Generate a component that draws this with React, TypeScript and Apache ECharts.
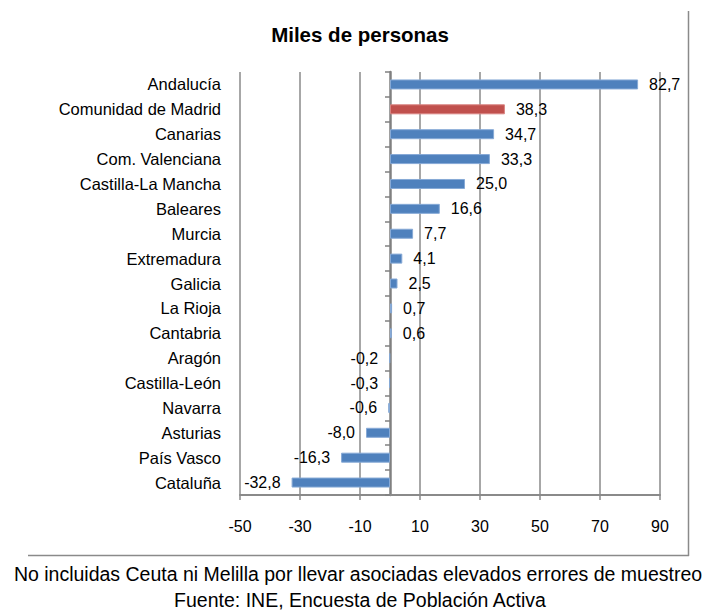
import React, { useEffect, useRef } from "react";
import * as echarts from "echarts";

const categories = [
  "Andalucía",
  "Comunidad de Madrid",
  "Canarias",
  "Com. Valenciana",
  "Castilla-La Mancha",
  "Baleares",
  "Murcia",
  "Extremadura",
  "Galicia",
  "La Rioja",
  "Cantabria",
  "Aragón",
  "Castilla-León",
  "Navarra",
  "Asturias",
  "País Vasco",
  "Cataluña",
];
const values = [82.7, 38.3, 34.7, 33.3, 25.0, 16.6, 7.7, 4.1, 2.5, 0.7, 0.6, -0.2, -0.3, -0.6, -8.0, -16.3, -32.8];
const highlighted = ["Comunidad de Madrid"];
const xMin = -50;
const xMax = 90;
const xStep = 20;
const titleText = "Miles de personas";
const footnoteText = "No incluidas Ceuta ni Melilla por llevar asociadas elevados errores de muestreo";
const sourceText = "Fuente: INE, Encuesta de Población Activa";

const FONT = "'Liberation Sans', Arial, sans-serif";
const BLUE = "#4F81BD";
const RED = "#C0504D";
const GRID = "#8a8a8a";

const fmt = (v: number) => v.toFixed(1).replace(".", ",");

export default function App() {
  const ref = useRef<HTMLDivElement>(null);
  useEffect(() => {
    if (!ref.current) return;
    const chart = echarts.init(ref.current, undefined, { renderer: "svg" });
    const data = values.map((v, i) => {
      const isHi = highlighted.includes(categories[i]);
      return {
        value: v,
        itemStyle: {
          color: isHi ? RED : BLUE,
          borderColor: isHi ? "#d98280" : "#86a9d6",
          borderWidth: 1,
        },
        label: { position: v >= 0 ? "right" : "left" },
      };
    });
    chart.setOption({
      animation: false,
      textStyle: { fontFamily: FONT },
      grid: { left: 240, right: 49, top: 72, bottom: 117, containLabel: false },
      xAxis: {
        type: "value",
        min: xMin,
        max: xMax,
        interval: xStep,
        axisLine: { show: true, onZero: false, lineStyle: { color: GRID, width: 2 } },
        axisTick: { show: true, length: 5, lineStyle: { color: GRID, width: 1.5 } },
        axisLabel: {
          margin: 23,
          color: "#000",
          fontSize: 16,
          fontFamily: FONT,
          formatter: (v: number) => String(v),
        },
        splitLine: { show: true, lineStyle: { color: GRID, width: 1.5 } },
      },
      yAxis: [
        {
          type: "category",
          data: categories,
          inverse: true,
          position: "left",
          axisLine: { show: false, onZero: false },
          axisTick: { show: false },
          splitLine: { show: false },
          axisLabel: { margin: 19, color: "#000", fontSize: 16.5, fontFamily: FONT },
        },
        {
          type: "category",
          data: categories,
          inverse: true,
          position: "left",
          axisLine: { show: true, onZero: true, lineStyle: { color: "#808080", width: 2.5 } },
          axisTick: { show: true, length: 5, lineStyle: { color: "#808080", width: 1.5 } },
          axisLabel: { show: false },
          splitLine: { show: false },
        },
      ],
      series: [
        {
          type: "bar",
          yAxisIndex: 0,
          data,
          barWidth: 10,
          label: {
            show: true,
            distance: 11,
            color: "#000",
            fontSize: 16,
            fontFamily: FONT,
            formatter: (p: any) => fmt(p.value),
          },
        },
      ],
      graphic: [
        {
          type: "text",
          x: 360,
          y: 34,
          style: {
            text: titleText,
            fontSize: 20.5,
            fontWeight: "bold",
            fontFamily: FONT,
            fill: "#000",
            textAlign: "center",
            textVerticalAlign: "middle",
          },
        },
        {
          type: "line",
          shape: { x1: 688.5, y1: 11, x2: 688.5, y2: 556 },
          style: { stroke: GRID, lineWidth: 1.5 },
        },
        {
          type: "line",
          shape: { x1: 28, y1: 555.5, x2: 689, y2: 555.5 },
          style: { stroke: GRID, lineWidth: 1.5 },
        },
        {
          type: "text",
          x: 358,
          y: 574,
          style: {
            text: footnoteText,
            fontSize: 19.5,
            fontFamily: FONT,
            fill: "#000",
            textAlign: "center",
            textVerticalAlign: "middle",
          },
        },
        {
          type: "text",
          x: 360,
          y: 600,
          style: {
            text: sourceText,
            fontSize: 19.5,
            fontFamily: FONT,
            fill: "#000",
            textAlign: "center",
            textVerticalAlign: "middle",
          },
        },
      ],
    });
    return () => chart.dispose();
  }, []);
  return (
    <div
      ref={ref}
      style={{ position: "fixed", left: 0, top: 0, width: 709, height: 612, background: "#fff" }}
    />
  );
}
